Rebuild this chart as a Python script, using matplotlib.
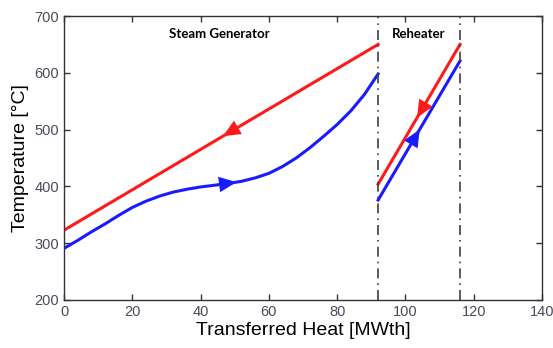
import numpy as np
import matplotlib
matplotlib.use("Agg")
import matplotlib.pyplot as plt

plt.rcParams['font.family'] = ['Liberation Sans', 'DejaVu Sans']

# steam generator
sg_hot_x = [0, 92]
sg_hot_y = [323, 650]
sg_cold_x = [0, 4, 8, 12, 16, 20, 24, 28, 32, 36, 40, 44, 48, 52,
             56, 60, 64, 68, 72, 76, 80, 84, 88, 92]
sg_cold_y = [291, 305, 320, 334, 349, 363, 374, 383, 390, 395, 399, 402,
             405, 409, 415, 423, 435, 450, 468, 488, 509, 533, 562, 598]

# reheater
rh_hot_x = [92, 116]
rh_hot_y = [404, 650]
rh_cold_x = [92, 116]
rh_cold_y = [376, 621]

boundaries = [92, 116]
xticks = [0, 20, 40, 60, 80, 100, 120, 140]
yticks = [200, 300, 400, 500, 600, 700]

fig = plt.figure(figsize=(5.53, 3.48), dpi=100)
ax = fig.add_axes([0.116, 0.138, 0.864, 0.816])

red = '#ff1a1a'
blue = '#1a1aff'

ax.plot(sg_hot_x, sg_hot_y, color=red, lw=2.2)
ax.plot(sg_cold_x, sg_cold_y, color=blue, lw=2.2)
ax.plot(rh_hot_x, rh_hot_y, color=red, lw=2.2)
ax.plot(rh_cold_x, rh_cold_y, color=blue, lw=2.2)

for b in boundaries:
    ax.axvline(b, color='#404040', lw=1.2, ls='-.', dashes=(6, 3, 1, 3))


def arrow(xs, ys, x_tip, x_tail, color):
    y_tip = np.interp(x_tip, xs, ys)
    y_tail = np.interp(x_tail, xs, ys)
    ax.annotate('', xy=(x_tip, y_tip), xytext=(x_tail, y_tail),
                arrowprops=dict(arrowstyle='-|>,head_length=0.9,head_width=0.4',
                                color=color, lw=0, mutation_scale=14,
                                shrinkA=0, shrinkB=0))


arrow(sg_hot_x, sg_hot_y, 46.5, 58, red)
arrow(sg_cold_x, sg_cold_y, 50.5, 40, blue)
arrow(rh_hot_x, rh_hot_y, 103.4, 108, red)
arrow(rh_cold_x, rh_cold_y, 104.2, 99.5, blue)

ax.text(45.5, 668, 'Steam Generator', ha='center', va='center', fontsize=9.5,
        fontweight='bold', family=['Lato', 'DejaVu Sans'])
ax.text(104, 668, 'Reheater', ha='center', va='center', fontsize=9.5,
        fontweight='bold', family=['Lato', 'DejaVu Sans'])

ax.set_xlim(0, 140)
ax.set_ylim(200, 700)
ax.set_xticks(xticks)
ax.set_yticks(yticks)
ax.tick_params(direction='in', top=True, right=True, length=4, width=1,
               labelsize=10.5, colors='#333333', labelcolor='#4a4a5a')
for s in ax.spines.values():
    s.set_color('#333333')
    s.set_linewidth(1)

ax.set_xlabel('Transferred Heat [MWth]', fontsize=14, labelpad=2)
ax.set_ylabel('Temperature [°C]', fontsize=14, labelpad=4)

fig.savefig('out.png', dpi=100)
